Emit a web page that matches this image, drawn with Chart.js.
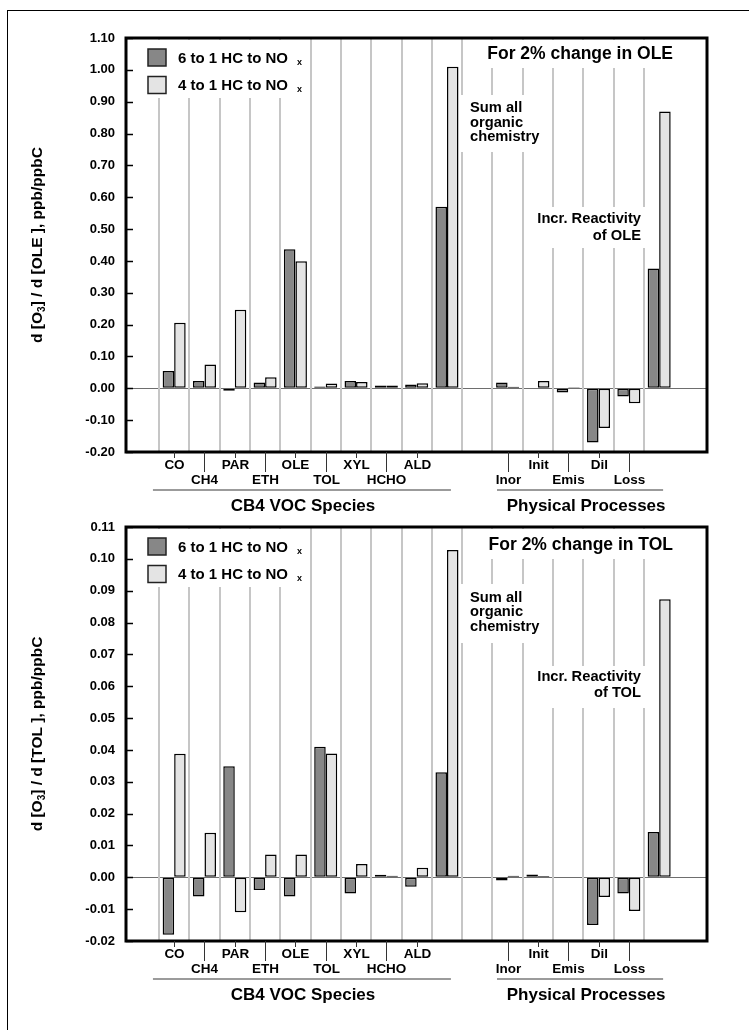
<!DOCTYPE html>
<html>
<head>
<meta charset="utf-8">
<script src="https://cdn.jsdelivr.net/npm/chart.js@4.4.1/dist/chart.umd.min.js"></script>
<style>
  html, body { margin: 0; padding: 0; background: #fff; }
  #page { position: relative; width: 749px; height: 1030px; overflow: hidden; }
  #frame { position: absolute; left: 7px; top: 10px; right: 0; bottom: 0;
           border-top: 1px solid #000; border-left: 1px solid #000; }
  canvas { position: absolute; left: 0; }
  #olePanel { top: 0; }
  #tolPanel { top: 489px; }
</style>
</head>
<body>
<div id="page">
  <div id="frame"></div>
  <canvas id="olePanel" width="749" height="515"></canvas>
  <canvas id="tolPanel" width="749" height="541"></canvas>
</div>
<script>
// categories along the x axis ('' = empty slot between the two groups)
const categories = ['CO', 'CH4', 'PAR', 'ETH', 'OLE', 'TOL', 'XYL', 'HCHO', 'ALD', 'Sum', '',
                    'Inor', 'Init', 'Emis', 'Dil', 'Loss', 'Incr'];
const tickLabels = ['CO', 'CH4', 'PAR', 'ETH', 'OLE', 'TOL', 'XYL', 'HCHO', 'ALD', '', '',
                    'Inor', 'Init', 'Emis', 'Dil', 'Loss', ''];
const seriesNames = ['6 to 1 HC to NO', '4 to 1 HC to NO'];
const groupNames = ['CB4 VOC Species', 'Physical Processes'];

// 2% change in OLE
const oleRatio6 = [0.054, 0.023, -0.008, 0.018, 0.437, 0.006, 0.023, 0.009, 0.012, 0.570, null,
                   0.018, 0.002, -0.013, -0.170, -0.026, 0.376];
const oleRatio4 = [0.206, 0.075, 0.247, 0.035, 0.399, 0.015, 0.020, 0.009, 0.016, 1.010, null,
                   0.005, 0.023, 0.003, -0.125, -0.047, 0.869];

// 2% change in TOL
const tolRatio6 = [-0.0180, -0.0060, 0.0349, -0.0040, -0.0060, 0.0410, -0.0051, 0.0008, -0.0030, 0.0330, null,
                   -0.0010, 0.0009, 0.0000, -0.0150, -0.0051, 0.0142];
const tolRatio4 = [0.0388, 0.0140, -0.0110, 0.0072, 0.0072, 0.0389, 0.0042, 0.0005, 0.0030, 0.1028, null,
                   0.0005, 0.0004, 0.0002, -0.0062, -0.0106, 0.0873];

const FONT = '"Liberation Sans", Arial, Helvetica, sans-serif';
const DARK = '#878787';
const LIGHT = '#e4e4e4';

function bold(size) { return 'bold ' + size + 'px ' + FONT; }

// text with subscripts: parts = [[text, isSub], ...]
function drawRich(ctx, parts, x, y, size, subSize, subDrop, align) {
  let total = 0;
  const widths = parts.map(p => {
    ctx.font = bold(p[1] ? subSize : size);
    const w = ctx.measureText(p[0]).width;
    total += w;
    return w;
  });
  let cx = align === 'center' ? x - total / 2 : (align === 'right' ? x - total : x);
  ctx.textAlign = 'left';
  parts.forEach((p, i) => {
    ctx.font = bold(p[1] ? subSize : size);
    ctx.fillText(p[0], cx, p[1] ? y + subDrop : y);
    cx += widths[i];
  });
}

function toPoints(values) {
  return values.map((v, i) => ({ x: i + 1, y: v })).filter(p => p.y !== null);
}

function makeDecor(p) {
  return {
    id: 'decor',
    beforeDatasetsDraw(chart) {
      const { ctx, chartArea: a, scales: { x } } = chart;
      ctx.save();
      // light separators between categories
      ctx.strokeStyle = '#c6c6c6';
      ctx.lineWidth = 2;
      for (let i = 0; i < categories.length; i++) {
        const px = Math.round(x.getPixelForValue(i + 0.5));
        ctx.beginPath();
        ctx.moveTo(px, a.top);
        ctx.lineTo(px, a.bottom);
        ctx.stroke();
      }
      // white boxes behind legend and notes
      ctx.fillStyle = '#fff';
      p.masks.forEach(m => ctx.fillRect(a.left + m[0], a.top + m[1], m[2], m[3]));
      ctx.restore();
    },
    afterDraw(chart) {
      const { ctx, chartArea: a, scales: { x, y } } = chart;
      ctx.save();
      ctx.fillStyle = '#000';
      ctx.textBaseline = 'alphabetic';

      // plot frame
      ctx.strokeStyle = '#000';
      ctx.lineWidth = 3;
      ctx.strokeRect(a.left, a.top, a.right - a.left, a.bottom - a.top);

      // inward y ticks
      ctx.lineWidth = 1.5;
      y.ticks.forEach(t => {
        const py = Math.round(y.getPixelForValue(t.value)) + 0.5;
        ctx.beginPath();
        ctx.moveTo(a.left, py);
        ctx.lineTo(a.left + 7, py);
        ctx.stroke();
      });

      // staggered x labels with their tick marks
      ctx.strokeStyle = '#333';
      ctx.lineWidth = 1;
      ctx.font = bold(13.5);
      ctx.textAlign = 'center';
      tickLabels.forEach((lab, i) => {
        if (!lab) return;
        const px = Math.round(x.getPixelForValue(i + 1)) + 0.5;
        const low = i % 2 === 1;
        ctx.beginPath();
        ctx.moveTo(px, a.bottom);
        ctx.lineTo(px, a.bottom + (low ? 20 : 6));
        ctx.stroke();
        ctx.fillText(lab, px, a.bottom + (low ? 32 : 17));
      });

      // group brackets and names
      ctx.strokeStyle = '#7a7a7a';
      ctx.lineWidth = 1.5;
      p.groups.forEach((g, k) => {
        const gy = a.bottom + 38;
        ctx.beginPath();
        ctx.moveTo(x.getPixelForValue(g[0]), gy);
        ctx.lineTo(x.getPixelForValue(g[1]), gy);
        ctx.stroke();
        ctx.font = bold(17);
        ctx.textAlign = 'center';
        ctx.fillText(groupNames[k], x.getPixelForValue(g[2]), a.bottom + 58.5);
      });

      // y axis title
      ctx.save();
      ctx.translate(36, (a.top + a.bottom) / 2);
      ctx.rotate(-Math.PI / 2);
      drawRich(ctx, [['d [O', false], ['3', true], ['] / d [' + p.species + ' ], ppb/ppbC', false]],
               0, 5.5, 15.5, 10, 3.5, 'center');
      ctx.restore();

      // legend
      [DARK, LIGHT].forEach((c, k) => {
        const top = a.top + 11 + k * 27.5;
        ctx.fillStyle = c;
        ctx.fillRect(a.left + 22, top, 18, 17);
        ctx.strokeStyle = '#222';
        ctx.lineWidth = 1.5;
        ctx.strokeRect(a.left + 22, top, 18, 17);
        ctx.fillStyle = '#000';
        ctx.font = bold(15);
        ctx.textAlign = 'left';
        ctx.fillText(seriesNames[k], a.left + 52, a.top + 24.5 + k * 27);
        ctx.font = bold(9);
        ctx.fillText('x', a.left + 171, a.top + 27 + k * 27);
      });

      // title
      ctx.font = bold(17.5);
      ctx.textAlign = 'right';
      ctx.fillText('For 2% change in ' + p.species, a.left + 547, a.top + p.titleY);

      // notes
      ctx.font = bold(14.7);
      ctx.textAlign = 'left';
      ['Sum all', 'organic', 'chemistry'].forEach((t, k) =>
        ctx.fillText(t, a.left + 344, a.top + p.sumY + k * 14.4));
      ctx.textAlign = 'right';
      ['Incr. Reactivity', 'of ' + p.species].forEach((t, k) =>
        ctx.fillText(t, a.left + 515, a.top + p.incrY + k * 16.5));

      ctx.restore();
    }
  };
}

function makePanel(id, height, species, ratio6, ratio4, yMin, yMax, yStep, layout) {
  const canvas = document.getElementById(id);
  return new Chart(canvas, {
    type: 'bar',
    data: {
      datasets: [
        { label: seriesNames[0], data: toPoints(ratio6), backgroundColor: DARK },
        { label: seriesNames[1], data: toPoints(ratio4), backgroundColor: LIGHT }
      ]
    },
    options: {
      responsive: false,
      animation: false,
      layout: { padding: { left: 0, top: 38, right: 42, bottom: 0 } },
      datasets: {
        bar: {
          borderColor: '#000',
          borderWidth: 1.5,
          borderSkipped: false,
          categoryPercentage: 0.76,
          barPercentage: 1.0
        }
      },
      plugins: { legend: { display: false }, tooltip: { enabled: false } },
      scales: {
        x: {
          type: 'linear',
          offset: false,
          min: -0.5887,
          max: 18.578,
          ticks: { display: false, stepSize: 1, includeBounds: false },
          grid: { display: false },
          border: { display: false },
          afterFit(scale) { scale.height = height - 452; }
        },
        y: {
          min: yMin,
          max: yMax,
          ticks: {
            stepSize: yStep,
            color: '#000',
            font: { family: FONT, size: 13, weight: 'bold' },
            padding: 11,
            callback: v => v.toFixed(2)
          },
          grid: {
            drawTicks: false,
            lineWidth: 1,
            color: ctx => (ctx.tick && Math.abs(ctx.tick.value) < 1e-9) ? '#6e6e6e' : 'rgba(0,0,0,0)'
          },
          border: { display: false },
          afterFit(scale) { scale.width = 126; }
        }
      }
    },
    plugins: [makeDecor(Object.assign({ species }, layout))]
  });
}

const groupSpans = [[0.30, 10.13, 5.25], [11.65, 17.13, 14.59]];

makePanel('olePanel', 515, 'OLE', oleRatio6, oleRatio4, -0.2, 1.1, 0.1, {
  groups: groupSpans,
  titleY: 21.3, sumY: 74.3, incrY: 185.3,
  masks: [[2, 2, 174, 58], [352, 2, 226, 28], [334, 57, 88, 57], [405, 169, 116, 41]]
});

makePanel('tolPanel', 541, 'TOL', tolRatio6, tolRatio4, -0.02, 0.11, 0.01, {
  groups: groupSpans,
  titleY: 23, sumY: 74.7, incrY: 153.7,
  masks: [[2, 2, 174, 58], [352, 2, 226, 30], [334, 57, 88, 59], [405, 139, 116, 42]]
});
</script>
</body>
</html>
